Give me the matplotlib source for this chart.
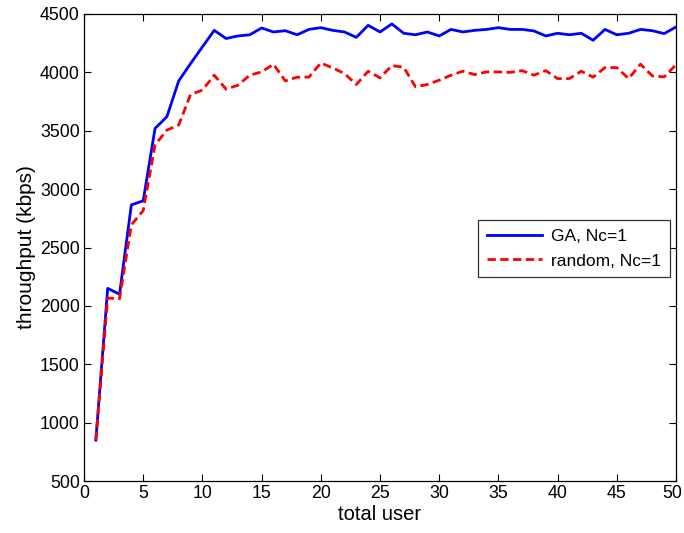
import matplotlib
matplotlib.use("Agg")
import matplotlib.pyplot as plt
import matplotlib.transforms as mtransforms

plt.rcParams['font.family'] = ['Liberation Sans', 'DejaVu Sans']

users = list(range(1, 51))
ga = [850, 2150, 2100, 2865, 2900, 3520, 3620, 3927, 4075, 4218,
      4360, 4290, 4312, 4322, 4380, 4346, 4357, 4322, 4368, 4383,
      4360, 4346, 4300, 4403, 4346, 4415, 4335, 4322, 4346, 4312,
      4368, 4346, 4360, 4368, 4383, 4368, 4368, 4355, 4312, 4335,
      4322, 4335, 4275, 4368, 4322, 4335, 4368, 4357, 4332, 4389]
rnd = [850, 2067, 2061, 2694, 2816, 3378, 3506, 3549, 3810, 3848,
       3976, 3856, 3890, 3976, 4004, 4070, 3927, 3959, 3959, 4081,
       4038, 3990, 3896, 4010, 3953, 4058, 4044, 3876, 3896, 3933,
       3976, 4010, 3981, 4004, 4004, 4000, 4015, 3976, 4015, 3947,
       3947, 4010, 3959, 4041, 4041, 3947, 4070, 3970, 3961, 4066]

xticks = list(range(0, 51, 5))
yticks = list(range(500, 4501, 500))

fig = plt.figure(figsize=(6.84, 5.33), dpi=100)
ax = fig.add_axes([84/684, 1 - 481/533, (676-84)/684, (481-14)/533])

ax.plot(users, ga, color='#0000ff', lw=2.0, label='GA, Nc=1')
ax.plot(users, rnd, color='#ff0000', lw=2.0, ls=(0, (3, 1.6)), label='random, Nc=1')

ax.set_xlim(0, 50)
ax.set_ylim(500, 4500)
ax.set_xticks(xticks)
ax.set_yticks(yticks)
ax.tick_params(direction='in', top=True, right=True, labelsize=12.8, length=5, width=0.8, pad=3)
for s in ax.spines.values():
    s.set_linewidth(0.9)
ax.set_xlabel('total user', fontsize=14.5, labelpad=2)
ax.set_ylabel('throughput (kbps)', fontsize=15, labelpad=3)

# nudge the last x tick label so it stays inside the figure
last = ax.get_xticklabels()[-1]
last.set_transform(last.get_transform() + mtransforms.ScaledTranslation(-4/100, 0, fig.dpi_scale_trans))

leg = ax.legend(loc='upper left', bbox_to_anchor=((478-84)/592, 1 - (220-14)/467),
                fontsize=12.5, frameon=True, fancybox=False, edgecolor='black',
                handlelength=3.2, borderpad=0.5, labelspacing=0.55, handletextpad=0.5,
                borderaxespad=0)
leg.get_frame().set_linewidth(0.9)

fig.savefig('out.png', dpi=100)
